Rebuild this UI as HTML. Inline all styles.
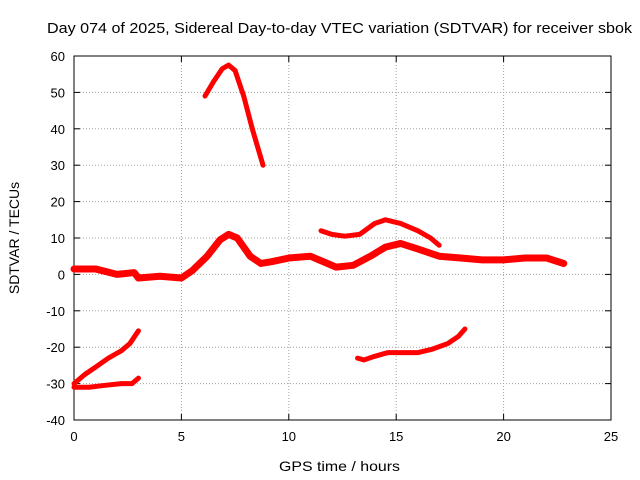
<!DOCTYPE html>
<html><head><meta charset="utf-8"><style>
body{margin:0;background:#fff;}
svg{display:block;font-family:"Liberation Sans",sans-serif;}
</style></head><body>
<svg id="chart" width="640" height="480" viewBox="0 0 640 480">
<text x="47" y="33" font-size="15" textLength="585" lengthAdjust="spacingAndGlyphs">Day 074 of 2025, Sidereal Day-to-day VTEC variation (SDTVAR) for receiver sbok</text>
<g id="grid"></g>
<g id="axes"></g>
<g id="series"></g>
<text x="279" y="471" font-size="14" textLength="121" lengthAdjust="spacingAndGlyphs">GPS time / hours</text>
<text transform="translate(19,238) rotate(-90)" text-anchor="middle" font-size="14">SDTVAR / TECUs</text>
</svg>
<script>
const xTicks=[0,5,10,15,20,25];
const yTicks=[-40,-30,-20,-10,0,10,20,30,40,50,60];
const bigArc=[[6.1,49],[6.5,53],[6.9,56.5],[7.2,57.5],[7.5,56],[7.9,49],[8.3,40],[8.8,30]];
const mainBand=[[0,1.5],[1,1.5],[2,0],[2.8,0.5],[3,-1],[4,-0.5],[5,-1],[5.5,1],[6.2,5],[6.8,9.5],[7.2,11],[7.6,10],[8.2,5],[8.7,3],[9.2,3.5],[10,4.5],[11,5],[11.6,3.5],[12.2,2],[13,2.5],[13.8,5],[14.5,7.5],[15.2,8.5],[16,7],[17,5],[18,4.5],[19,4],[20,4],[21,4.5],[22,4.5],[22.8,3]];
const upperArc=[[11.5,12],[12,11],[12.6,10.5],[13.3,11],[14,14],[14.5,15],[15.2,14],[16,12],[16.6,10],[17,8]];
const lowerLeftA=[[0,-30],[0.5,-27.5],[1,-25.5],[1.6,-23],[2.2,-21],[2.6,-19],[3,-15.5]];
const lowerLeftB=[[0,-31],[0.7,-31],[1.4,-30.5],[2.2,-30],[2.7,-30],[3,-28.5]];
const midLower=[[13.2,-23],[13.5,-23.5],[14,-22.5],[14.6,-21.5],[15.3,-21.5],[16,-21.5],[16.7,-20.5],[17.4,-19],[17.9,-17],[18.2,-15]];
const X0=74,X1=611,Y0=420,Y1=56;
const sx=v=>X0+(v-0)/(25-0)*(X1-X0);
const sy=v=>Y0-(v+40)/(100)*(Y0-Y1);
const NS='http://www.w3.org/2000/svg';
const grid=document.getElementById('grid'),axes=document.getElementById('axes'),ser=document.getElementById('series');
function mk(t,a,p){const e=document.createElementNS(NS,t);for(const k in a)e.setAttribute(k,a[k]);p.appendChild(e);return e;}
xTicks.forEach(t=>{
 if(t>0&&t<25){const g=mk('line',{x1:sx(t),x2:sx(t),y1:Y0,y2:Y1,stroke:'#a0a0a0','stroke-dasharray':'1,2'},grid);}
 const tx=mk('text',{x:sx(t),y:Y0+21,'text-anchor':'middle','font-size':'13'},axes);tx.textContent=t;
 
 mk('line',{x1:sx(t),x2:sx(t),y1:Y0,y2:Y0-6,stroke:'#000'},axes);mk('line',{x1:sx(t),x2:sx(t),y1:Y1,y2:Y1+6,stroke:'#000'},axes);
});
yTicks.forEach(t=>{
 if(t>-40&&t<60){const g=mk('line',{x1:X0,x2:X1,y1:sy(t),y2:sy(t),stroke:'#a0a0a0','stroke-dasharray':'1,2'},grid);}
 const tx=mk('text',{x:X0-9,y:sy(t)+5,'text-anchor':'end','font-size':'13'},axes);tx.textContent=t;
 
 mk('line',{x1:X0,x2:X0+6,y1:sy(t),y2:sy(t),stroke:'#000'},axes);mk('line',{x1:X1,x2:X1-6,y1:sy(t),y2:sy(t),stroke:'#000'},axes);
});
const fr=mk('rect',{x:X0,y:Y1,width:X1-X0,height:Y0-Y1,fill:'none',stroke:'#000'},axes);

function line(d,name,w){
 const p=mk('polyline',{points:d.map(q=>sx(q[0])+','+sy(q[1])).join(' '),fill:'none',stroke:'#f00','stroke-width':w,'stroke-linejoin':'round','stroke-linecap':'round'},ser);
 
 
}
line(bigArc,'series-big-arc',5);
line(mainBand,'series-main-band',7);
line(upperArc,'series-upper-arc',5);
line(lowerLeftA,'series-lower-left-a',5);
line(lowerLeftB,'series-lower-left-b',5);
line(midLower,'series-mid-lower',5);
</script>
</body></html>
